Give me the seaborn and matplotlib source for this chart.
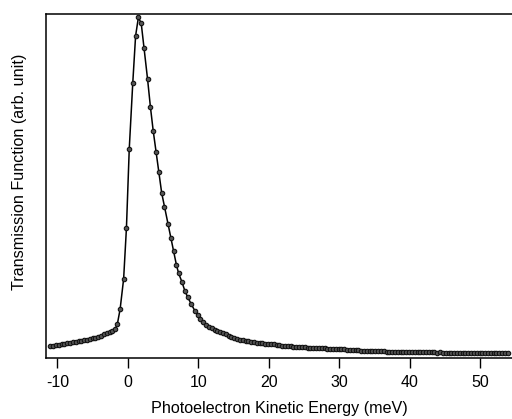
import numpy as np
import matplotlib
matplotlib.use('Agg')
import matplotlib.pyplot as plt
import seaborn as sns
import pandas as pd

# photoelectron kinetic energy (meV)
energy = [
    -11.0, -10.6, -10.2, -9.8, -9.4, -9.0, -8.6, -8.2, -7.8, -7.4,
    -7.0, -6.6, -6.2, -5.8, -5.4, -5.0, -4.6, -4.2, -3.8, -3.4,
    -3.0, -2.6, -2.2, -1.8,
    -1.5, -1.1, -0.6, -0.2, 0.2, 0.7, 1.1, 1.5, 1.9, 2.3,
    2.8, 3.2, 3.6, 4.0, 4.4, 4.8, 5.2, 5.7, 6.1, 6.5,
    6.9, 7.2, 7.7, 8.1, 8.5, 9.0, 9.5, 9.9, 10.3, 10.7,
    11.1, 11.5, 11.9, 12.3, 12.7, 13.1, 13.5, 13.9, 14.3, 14.7,
    15.1, 15.5, 15.9, 16.3, 16.7, 17.1, 17.5, 17.9, 18.3, 18.7,
    19.1, 19.5, 19.9, 20.3, 20.7, 21.1, 21.5, 21.9, 22.3, 22.7,
    23.1, 23.5, 23.9,
    24.3, 24.7, 25.1, 25.5, 25.9, 26.3, 26.7, 27.1, 27.5, 27.9,
    28.3, 28.7, 29.1, 29.5, 29.9, 30.3, 30.7, 31.1, 31.5, 31.9,
    32.3, 32.7, 33.1, 33.5, 33.9, 34.3, 34.7, 35.1, 35.5, 35.9,
    36.3, 36.7, 37.1, 37.5, 37.9, 38.3, 38.7, 39.1, 39.5, 39.9,
    40.3, 40.7, 41.1, 41.5, 41.9, 42.3, 42.7, 43.1, 43.5, 43.9,
    44.3, 44.7, 45.1, 45.5, 45.9, 46.3, 46.7, 47.1, 47.5, 47.9,
    48.3, 48.7, 49.1, 49.5, 49.9, 50.3, 50.7, 51.1, 51.5, 51.9,
    52.3, 52.7, 53.1, 53.5, 53.9,
]

# transmission (arb. unit)
transmission = [
    0.036, 0.037, 0.038, 0.039, 0.040, 0.041, 0.043, 0.044, 0.046, 0.047,
    0.049, 0.050, 0.052, 0.054, 0.056, 0.058, 0.060, 0.063, 0.066, 0.069,
    0.072, 0.075, 0.079, 0.085,
    0.098, 0.142, 0.230, 0.378, 0.608, 0.800, 0.936, 0.990, 0.972, 0.900,
    0.810, 0.730, 0.660, 0.600, 0.540, 0.480, 0.440, 0.390, 0.350, 0.310,
    0.270, 0.247, 0.220, 0.195, 0.177, 0.157, 0.138, 0.125, 0.113, 0.104,
    0.097, 0.091, 0.087, 0.083, 0.079, 0.076, 0.073, 0.069, 0.066, 0.063,
    0.060, 0.057, 0.054, 0.052, 0.050, 0.049, 0.047, 0.046, 0.045, 0.044,
    0.043, 0.042, 0.041, 0.040, 0.040, 0.039, 0.038, 0.037, 0.036, 0.035,
    0.035, 0.034, 0.033,
    0.033, 0.032, 0.032, 0.031, 0.031, 0.030, 0.030, 0.030, 0.029, 0.029,
    0.028, 0.028, 0.028, 0.027, 0.027, 0.026, 0.026, 0.025, 0.025, 0.024,
    0.023, 0.023, 0.022, 0.022, 0.021, 0.021, 0.021, 0.020, 0.020, 0.020,
    0.020, 0.019, 0.019, 0.019, 0.019, 0.018, 0.018, 0.018, 0.018, 0.018,
    0.018, 0.017, 0.017, 0.018, 0.017, 0.017, 0.017, 0.017, 0.017, 0.016,
    0.017, 0.016, 0.016, 0.016, 0.016, 0.015, 0.015, 0.015, 0.015, 0.014,
    0.014, 0.014, 0.014, 0.014, 0.014, 0.015, 0.015, 0.015, 0.015, 0.015,
    0.015, 0.015, 0.016, 0.016, 0.016,
]

xticks = [-10, 0, 10, 20, 30, 40, 50]

df = pd.DataFrame({'E': energy, 'T': transmission})

sns.set_style('ticks')
plt.rcParams['font.family'] = ['Liberation Sans', 'DejaVu Sans']
plt.rcParams['axes.unicode_minus'] = False
plt.rcParams['text.color'] = 'black'
plt.rcParams['axes.labelcolor'] = 'black'
plt.rcParams['xtick.color'] = 'black'
plt.rcParams['axes.edgecolor'] = 'black'

fig = plt.figure(figsize=(5.12, 4.19), dpi=100)
ax = fig.add_axes([0.09, 0.145, 0.91, 0.822])

sns.lineplot(data=df, x='E', y='T', ax=ax, color='black', linewidth=1.1,
             marker='o', markersize=3.2, markerfacecolor='#555555',
             markeredgecolor='#111111', markeredgewidth=0.8)

ax.set_xlim(-11.6, 54.5)
ax.set_ylim(0, 1.0)
ax.set_xticks(xticks)
ax.set_yticks([])
ax.tick_params(axis='x', direction='out', length=7, width=1, labelsize=11.5, pad=5)
for s in ['left', 'top', 'bottom']:
    ax.spines[s].set_linewidth(1.1)
ax.spines['right'].set_visible(False)

ax.set_xlabel('Photoelectron Kinetic Energy (meV)', fontsize=11.6, labelpad=8)
ax.set_ylabel('Transmission Function (arb. unit)', fontsize=11.6)
ax.yaxis.set_label_coords(-0.04, 0.54)

fig.savefig('out.png', dpi=100)
